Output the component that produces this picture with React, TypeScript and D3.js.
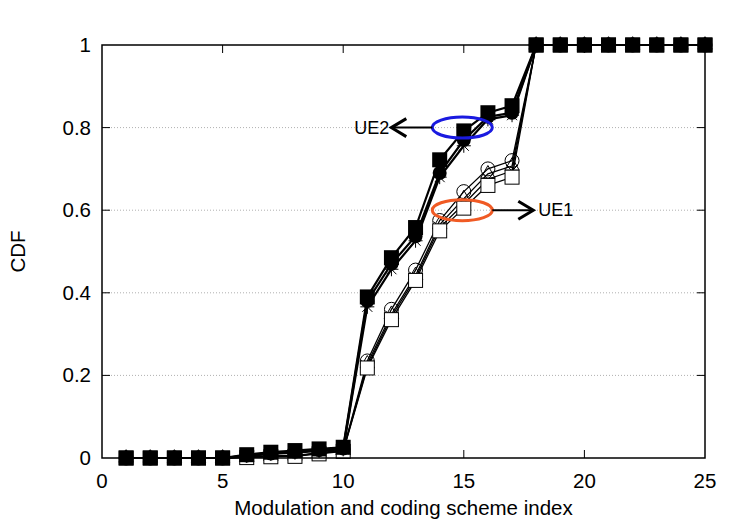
import React, { useEffect, useRef } from 'react';
import * as d3 from 'd3';

// MCS index 1..25
const mcs = d3.range(1, 26);
const xTicks = [0, 5, 10, 15, 20, 25];
const yTicks = [0, 0.2, 0.4, 0.6, 0.8, 1];
const gridTicks = [0.2, 0.4, 0.6, 0.8];

const tail = [1, 1, 1, 1, 1, 1, 1, 1];

// UE1 (open markers)
const ue1Circle = [0, 0, 0, 0, 0, 0.003, 0.005, 0.006, 0.013, 0.019, 0.235, 0.36, 0.455, 0.575, 0.645, 0.7, 0.72, ...tail];
const ue1Triangle = [0, 0, 0, 0, 0, 0.002, 0.004, 0.005, 0.012, 0.018, 0.228, 0.348, 0.442, 0.565, 0.628, 0.688, 0.707, ...tail];
const ue1Cross = [0, 0, 0, 0, 0, 0.002, 0.004, 0.005, 0.011, 0.017, 0.222, 0.342, 0.436, 0.558, 0.615, 0.675, 0.695, ...tail];
const ue1Square = [0, 0, 0, 0, 0, 0.001, 0.003, 0.004, 0.01, 0.016, 0.218, 0.335, 0.43, 0.55, 0.605, 0.66, 0.68, ...tail];

// UE2 (filled markers)
const ue2Square = [0, 0, 0, 0, 0, 0.008, 0.014, 0.018, 0.022, 0.026, 0.39, 0.485, 0.558, 0.722, 0.792, 0.836, 0.853, ...tail];
const ue2Circle = [0, 0, 0, 0, 0, 0.006, 0.011, 0.015, 0.019, 0.023, 0.38, 0.47, 0.537, 0.69, 0.77, 0.826, 0.836, ...tail];
const ue2Star = [0, 0, 0, 0, 0, 0.005, 0.01, 0.013, 0.017, 0.021, 0.366, 0.457, 0.526, 0.68, 0.756, 0.82, 0.83, ...tail];

const series = [
  { values: ue1Circle, marker: 'circle' },
  { values: ue1Triangle, marker: 'triangle' },
  { values: ue1Cross, marker: 'cross' },
  { values: ue1Square, marker: 'square' },
  { values: ue2Star, marker: 'star' },
  { values: ue2Circle, marker: 'fcircle' },
  { values: ue2Square, marker: 'fsquare' },
];

const App = () => {
  const ref = useRef<SVGSVGElement>(null);

  useEffect(() => {
    const svg = d3.select(ref.current);
    svg.selectAll('*').remove();

    const width = 750;
    const height = 525;
    const left = 102;
    const right = 705;
    const top = 45;
    const bottom = 458;
    const font = '"Liberation Sans", Arial, sans-serif';
    const fs = 20.5;

    const x = d3.scaleLinear().domain([0, 25]).range([left, right]);
    const y = d3.scaleLinear().domain([0, 1]).range([bottom, top]);

    svg.attr('width', width).attr('height', height);
    svg.append('rect').attr('width', width).attr('height', height).attr('fill', 'white');

    // grid
    svg.append('g')
      .selectAll('line')
      .data(gridTicks)
      .join('line')
      .attr('x1', left)
      .attr('x2', right)
      .attr('y1', (d) => y(d))
      .attr('y2', (d) => y(d))
      .attr('stroke', '#b0b0b0')
      .attr('stroke-width', 1)
      .attr('stroke-dasharray', '1,2');

    // ticks (inward, all four sides)
    const tl = 8;
    const tg = svg.append('g').attr('stroke', 'black').attr('stroke-width', 1);
    xTicks.slice(1, -1).forEach((t) => {
      tg.append('line').attr('x1', x(t)).attr('x2', x(t)).attr('y1', bottom).attr('y2', bottom - tl);
      tg.append('line').attr('x1', x(t)).attr('x2', x(t)).attr('y1', top).attr('y2', top + tl);
    });
    yTicks.slice(1, -1).forEach((t) => {
      tg.append('line').attr('x1', left).attr('x2', left + tl).attr('y1', y(t)).attr('y2', y(t));
      tg.append('line').attr('x1', right).attr('x2', right - tl).attr('y1', y(t)).attr('y2', y(t));
    });

    // tick labels
    svg.append('g')
      .selectAll('text')
      .data(xTicks)
      .join('text')
      .attr('x', (d) => x(d))
      .attr('y', bottom + 30)
      .attr('text-anchor', 'middle')
      .attr('font-family', font)
      .attr('font-size', fs)
      .text((d) => d);

    svg.append('g')
      .selectAll('text')
      .data(yTicks)
      .join('text')
      .attr('x', left - 11)
      .attr('y', (d) => y(d) + 7)
      .attr('text-anchor', 'end')
      .attr('font-family', font)
      .attr('font-size', fs)
      .text((d) => d);

    svg.append('text')
      .attr('x', (left + right) / 2)
      .attr('y', 515)
      .attr('text-anchor', 'middle')
      .attr('font-family', font)
      .attr('font-size', fs)
      .text('Modulation and coding scheme index');

    svg.append('text')
      .attr('transform', `translate(25, ${(top + bottom) / 2}) rotate(-90)`)
      .attr('text-anchor', 'middle')
      .attr('font-family', font)
      .attr('font-size', fs)
      .text('CDF');

    // lines + markers
    const line = d3.line<number>().x((_, i) => x(mcs[i])).y((d) => y(d));

    series.forEach((s) => {
      const g = svg.append('g');
      g.append('path')
        .attr('d', line(s.values))
        .attr('fill', 'none')
        .attr('stroke', 'black')
        .attr('stroke-width', s.marker.startsWith('f') || s.marker === 'star' ? 2.2 : 1.3);

      s.values.forEach((v, i) => {
        const cx = x(mcs[i]);
        const cy = y(v);
        const m = g.append('g').attr('transform', `translate(${cx},${cy})`);
        if (s.marker === 'circle') {
          m.append('circle').attr('r', 7).attr('fill', 'none').attr('stroke', 'black');
        } else if (s.marker === 'square') {
          m.append('rect').attr('x', -7).attr('y', -7).attr('width', 14).attr('height', 14)
            .attr('fill', 'white').attr('stroke', 'black');
        } else if (s.marker === 'triangle') {
          m.append('path').attr('d', d3.symbol(d3.symbolTriangle, 90)()).attr('fill', 'none').attr('stroke', 'black');
        } else if (s.marker === 'cross') {
          m.append('path').attr('d', 'M-6,-6L6,6M-6,6L6,-6').attr('stroke', 'black');
        } else if (s.marker === 'star') {
          m.append('path').attr('d', 'M-7,0L7,0M0,-7L0,7M-5,-5L5,5M-5,5L5,-5').attr('stroke', 'black');
        } else if (s.marker === 'fcircle') {
          m.append('circle').attr('r', 7).attr('fill', 'black');
        } else if (s.marker === 'fsquare') {
          m.append('rect').attr('x', -7.5).attr('y', -7.5).attr('width', 15).attr('height', 15).attr('fill', 'black');
        }
      });
    });

    // border
    svg.append('rect')
      .attr('x', left)
      .attr('y', top)
      .attr('width', right - left)
      .attr('height', bottom - top)
      .attr('fill', 'none')
      .attr('stroke', 'black')
      .attr('stroke-width', 1.5);

    // annotations
    const ann = svg.append('g');
    const arrow = (x1: number, x2: number, yy: number) => {
      ann.append('line').attr('x1', x1).attr('x2', x2).attr('y1', yy).attr('y2', yy)
        .attr('stroke', 'black').attr('stroke-width', 2);
      const dir = x2 > x1 ? -1 : 1;
      ann.append('path')
        .attr('d', `M${x2 + dir * 15},${yy - 9}L${x2},${yy}L${x2 + dir * 15},${yy + 9}`)
        .attr('fill', 'none')
        .attr('stroke', 'black')
        .attr('stroke-width', 3);
    };

    const cx = x(15) - 1.5;
    const e2y = y(0.8);
    ann.append('ellipse').attr('cx', cx).attr('cy', e2y).attr('rx', 30).attr('ry', 10.5)
      .attr('fill', 'none').attr('stroke', '#1a1ae0').attr('stroke-width', 3);
    arrow(cx - 30, cx - 71, e2y);
    ann.append('text').attr('x', cx - 73).attr('y', e2y + 6).attr('text-anchor', 'end')
      .attr('font-family', font).attr('font-size', 18).text('UE2');

    const e1y = y(0.6);
    ann.append('ellipse').attr('cx', cx).attr('cy', e1y).attr('rx', 30).attr('ry', 10.5)
      .attr('fill', 'none').attr('stroke', '#f05a24').attr('stroke-width', 3);
    arrow(cx + 30, cx + 71, e1y);
    ann.append('text').attr('x', cx + 76).attr('y', e1y + 6).attr('text-anchor', 'start')
      .attr('font-family', font).attr('font-size', 18).text('UE1');
  }, []);

  return <svg ref={ref} style={{ display: 'block', position: 'absolute', left: 0, top: 0 }} />;
};

export default App;
